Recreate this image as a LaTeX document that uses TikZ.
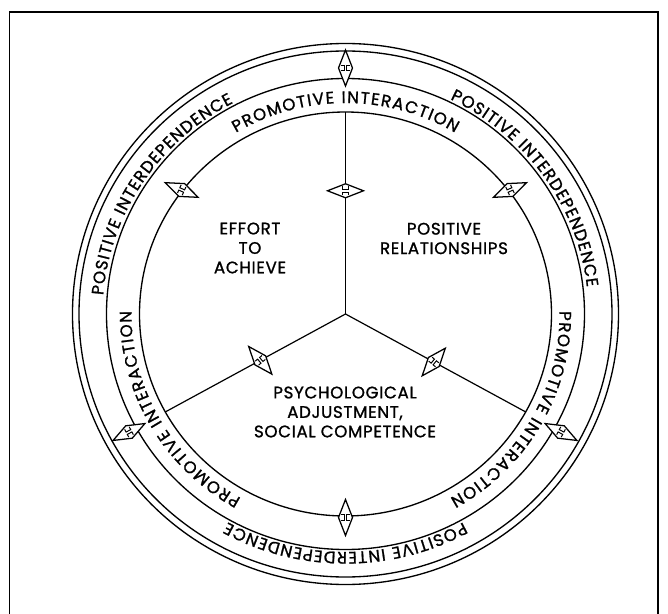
\documentclass[tikz,border=0pt]{standalone}
\usepackage{fontspec}
\setmainfont{Poppins}
\newfontfamily\labelfont[LetterSpace=4,FakeBold=1.2]{Poppins}
\newfontfamily\ringfont[FakeBold=1.2]{Poppins}
\usetikzlibrary{decorations.text,calc}

\tikzset{
  rim/.style={line width=1pt},
  spoke/.style={line width=0.9pt},
  frameline/.style={line width=1.2pt},
  lab/.style={align=center,inner sep=0pt,font=\labelfont\fontsize{12.5}{14.6}\selectfont},
  ringtext/.style={decorate,decoration={text along path,text align={fit to path},
      text={|\ringfont\fontsize{12.5}{15}\selectfont|#1}}},
  % two-headed arrow drawn as a slim rhombus with a small joint in the middle
  dblarrow/.pic={
    \fill[white] (-18,0) -- (0,7) -- (18,0) -- (0,-7) -- cycle;
    \draw[line width=0.95pt,line join=miter] (-18,0) -- (0,7) -- (18,0) -- (0,-7) -- cycle;
    \draw[line width=0.75pt] (-2.6,4.4) -- (-2.6,1.3) -- (2.6,1.3) -- (2.6,4.4);
    \draw[line width=0.75pt] (-2.6,-4.4) -- (-2.6,-1.3) -- (2.6,-1.3) -- (2.6,-4.4);
  }
}

\begin{document}
\begin{tikzpicture}[x=0.75pt,y=0.75pt]
\useasboundingbox (-345.5,-300) rectangle (322.5,314);

% page frame (open at the bottom)
\coordinate (fBL) at (-336,-300);
\coordinate (fTL) at (-336,302);
\coordinate (fTR) at (312.5,302);
\coordinate (fBR) at (312.5,-300);
\draw[frameline] (fBL) -- (fTL) -- (fTR) -- (fBR);

% rings
\coordinate (O) at (0,0);
\draw[rim] (O) ellipse [x radius=206, y radius=202];
\draw[rim] (O) ellipse [x radius=239, y radius=235.5];
\draw[rim] (O) ellipse [x radius=266.5, y radius=263];
\draw[rim] (O) ellipse [x radius=273, y radius=270.5];

% the three sectors
\coordinate (sT) at (90:206 and 202);
\coordinate (sL) at (209:206 and 202);
\coordinate (sR) at (331:206 and 202);
\draw[spoke] (O) -- (sT);
\draw[spoke] (O) -- (sL);
\draw[spoke] (O) -- (sR);

% sector labels
\node[lab] (effort) at (-95.5,66) {EFFORT\\TO\\ACHIEVE};
\node[lab] (relations) at (98.5,75.5) {POSITIVE\\RELATIONSHIPS};
\node[lab] (psych) at (-0.5,-98) {PSYCHOLOGICAL\\ADJUSTMENT,\\SOCIAL COMPETENCE};

% inner ring: promotive interaction
\path[ringtext={PROMOTIVE INTERACTION}]
  (120.8:214 and 211) arc[start angle=120.8, end angle=59.2, x radius=214, y radius=211];
\path[ringtext={PROMOTIVE INTERACTION}]
  (240.8:214 and 211) arc[start angle=240.8, end angle=179.2, x radius=214, y radius=211];
\path[ringtext={PROMOTIVE INTERACTION}]
  (0.8:214 and 211) arc[start angle=0.8, end angle=-60.8, x radius=214, y radius=211];

% outer ring: positive interdependence
\path[ringtext={POSITIVE INTERDEPENDENCE}]
  (175.5:243 and 238) arc[start angle=175.5, end angle=117.5, x radius=243, y radius=238];
\path[ringtext={POSITIVE INTERDEPENDENCE}]
  (64.5:243 and 238) arc[start angle=64.5, end angle=6.5, x radius=243, y radius=238];
\path[ringtext={POSITIVE INTERDEPENDENCE}]
  (299:243 and 238) arc[start angle=299, end angle=241, x radius=243, y radius=238];

% two-headed arrows
\pic (aTop)   [rotate=90]  at (0,246)        {dblarrow};
\pic (aBot)   [rotate=90]  at (0,-203.5)     {dblarrow};
\pic (aUL)    [rotate=156] at (-163.8,124)   {dblarrow};
\pic (aUR)    [rotate=24]  at (164.5,124)    {dblarrow};
\pic (aLL)    [rotate=28]  at (-216.5,-118)  {dblarrow};
\pic (aLR)    [rotate=-28] at (215.5,-118)   {dblarrow};
\pic (aSpT)   [rotate=0]   at ($(O)!0.61!(sT)$) {dblarrow};
\pic (aSpL)   [rotate=130] at ($(O)!0.473!(sL)$) {dblarrow};
\pic (aSpR)   [rotate=50]  at ($(O)!0.49!(sR)$) {dblarrow};
\end{tikzpicture}
\end{document}
